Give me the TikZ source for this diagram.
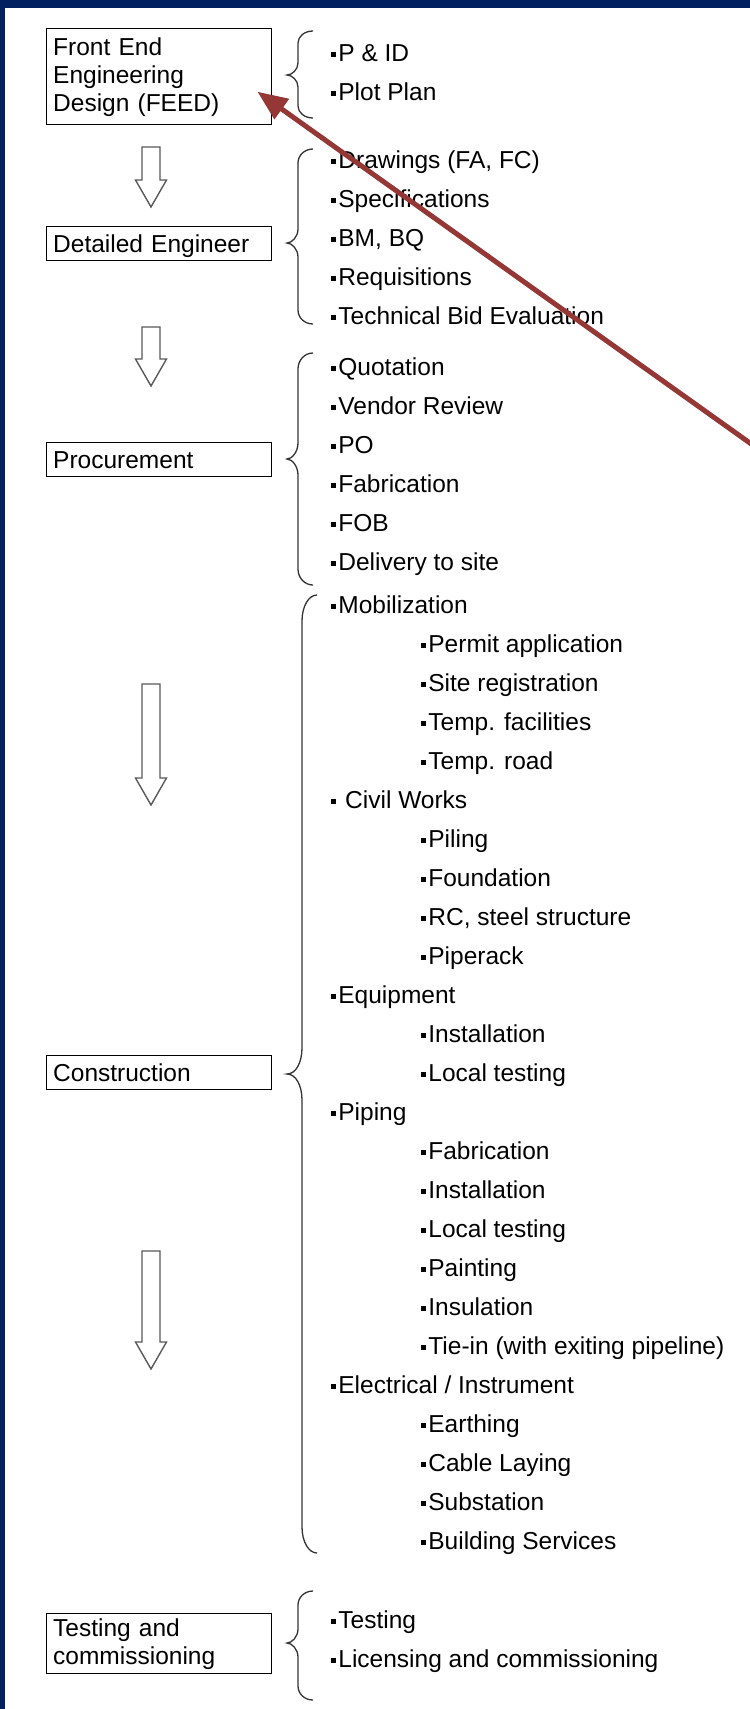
\documentclass[tikz,border=0pt]{standalone}
\usepackage{fontspec}
\setmainfont{Liberation Sans}
\usetikzlibrary{arrows.meta,calc}
\definecolor{frameblue}{HTML}{002060}
\definecolor{pointerred}{HTML}{953735}
\newcommand{\sqb}{\rule[4.3pt]{4.6pt}{4.6pt}\hspace{2.6pt}}
\tikzset{
  stage/.style={draw, line width=1.4pt, anchor=north west, minimum width=225pt,
    text width=212pt, inner xsep=6.5pt, inner ysep=0pt, align=left,
    font=\fontsize{24.5}{28}\selectfont},
  single stage/.style={stage, minimum height=34pt, text height=18pt, text depth=0pt},
  task/.style={anchor=base west, inner sep=0pt, font=\fontsize{24.5}{28}\selectfont},
  bracket/.style={line width=1.3pt, draw=black!80},
  hollow arrow/.style={draw=black!65, line width=1.4pt, fill=white, line join=miter},
  pointer/.style={-{Triangle[length=30pt,width=24pt]}, line width=5pt, pointerred},
}

\begin{document}
\begin{tikzpicture}[x=1pt, y=-1pt]
  \useasboundingbox (0,0) rectangle (750,1709);
  % Frame
  \fill[frameblue] (0,0) rectangle (750,1709);
  \fill[white] (5,8) rectangle (750,1709);

  % Stages
  \node[stage, minimum height=96pt] (feed) at (46,28) {Front End\\Engineering\\Design (FEED)};
  \node[single stage] (detail) at (46,226) {Detailed Engineer};
  \node[single stage] (procure) at (46,442) {Procurement};
  \node[single stage] (construct) at (46,1055) {Construction};
  \node[stage, minimum height=60pt] (testing) at (46,1613) {Testing and\\commissioning};

  % Hollow down arrows
  \foreach \top/\tip in {147/207, 327/386, 684/805, 1251/1369} {
    \pgfmathsetmacro{\base}{\tip-27}
    \draw[hollow arrow] (142,\top) -- (160,\top) -- (160,\base) -- (166.5,\base)
      -- (151,\tip) -- (135.5,\base) -- (142,\base) -- cycle;
  }

  % Braces
  \foreach \t/\b/\m/\r/\v in {31/118/75/12/298, 149/324/243/14/298, 353/585/459/16/298,
                              595/1553/1074/26/302, 1591/1700/1643/14/298} {
    \draw[bracket] (\v+15,\t) .. controls (\v+6.5,\t) and (\v,\t+0.45*\r) .. (\v,\t+\r)
      -- (\v,\m-\r) .. controls (\v,\m-0.45*\r) and (\v-6,\m) .. (287,\m)
      .. controls (\v-6,\m) and (\v,\m+0.45*\r) .. (\v,\m+\r)
      -- (\v,\b-\r) .. controls (\v,\b-0.45*\r) and (\v+6.5,\b) .. (\v+15,\b);
  }

  % Task lists
  \foreach \txt [count=\i from 0] in {P \& ID, Plot Plan}
    \node[task] (feed task \i) at (331,61+39*\i) {\sqb\txt};
  \foreach \txt [count=\i from 0] in {{Drawings (FA, FC)}, Specifications, {BM, BQ},
      Requisitions, Technical Bid Evaluation}
    \node[task] (detail task \i) at (331,168+39*\i) {\sqb\txt};
  \foreach \txt [count=\i from 0] in {Quotation, Vendor Review, PO, Fabrication, FOB,
      Delivery to site}
    \node[task] (procure task \i) at (331,375+39*\i) {\sqb\txt};
  \foreach \lvl/\txt [count=\i from 0] in {1/Mobilization, 2/Permit application,
      2/Site registration, 2/Temp. facilities, 2/Temp. road, 1/{~Civil Works},
      2/Piling, 2/Foundation, 2/{RC, steel structure}, 2/Piperack, 1/Equipment,
      2/Installation, 2/Local testing, 1/Piping, 2/Fabrication, 2/Installation,
      2/Local testing, 2/Painting, 2/Insulation, 2/{Tie-in (with exiting pipeline)},
      1/{Electrical / Instrument}, 2/Earthing, 2/Cable Laying, 2/Substation,
      2/Building Services}
    \node[task] (construct task \i) at (331+90*\lvl-90,613+39*\i) {\sqb\txt};
  \foreach \txt [count=\i from 0] in {Testing, Licensing and commissioning}
    \node[task] (testing task \i) at (331,1628+39*\i) {\sqb\txt};

  % Red pointer
  \coordinate (pointer tail) at (752,444.5);
  \coordinate (feed tip) at ($(feed.east)+(-15,15)$);
  \draw[pointer] (pointer tail) -- (feed tip);
\end{tikzpicture}
\end{document}
